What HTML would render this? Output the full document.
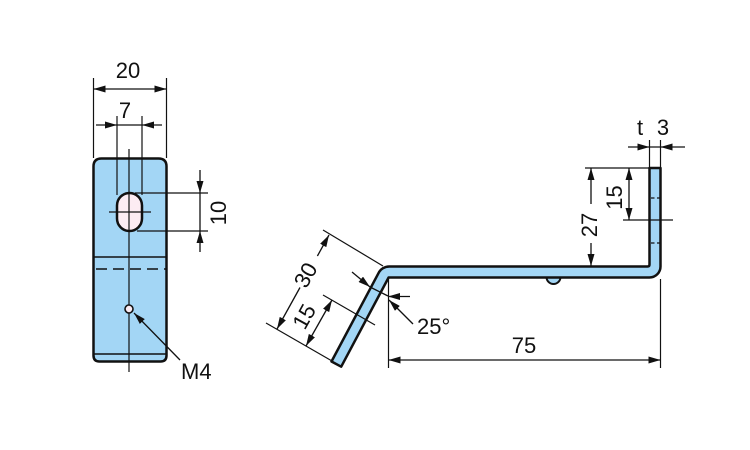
<!DOCTYPE html>
<html><head><meta charset="utf-8"><style>
html,body{margin:0;padding:0;background:#fff;}
svg{display:block;}
text{font-family:"Liberation Sans",sans-serif;font-size:22px;fill:#111;}
</style></head><body>
<svg width="750" height="450" viewBox="0 0 750 450" xmlns="http://www.w3.org/2000/svg">
<defs>
<marker id="a" viewBox="0 0 12 7" refX="12" refY="3.5" markerWidth="12" markerHeight="7" markerUnits="userSpaceOnUse" orient="auto-start-reverse">
<path d="M0,0 L12,3.5 L0,7 z" fill="#111"/>
</marker>
</defs>

<!-- LEFT FRONT VIEW -->
<path d="M93.5,166.5 Q93.5,158.5 101.5,158.5 L158.5,158.5 Q166.5,158.5 166.5,166.5 L166.5,355.5 Q166.5,361.5 160.5,361.5 L99.5,361.5 Q93.5,361.5 93.5,355.5 Z" fill="#a3d6f5" stroke="#111" stroke-width="2.5"/>
<line x1="93.5" y1="257" x2="166.5" y2="257" stroke="#111" stroke-width="1.6"/>
<line x1="96" y1="269" x2="166" y2="269" stroke="#111" stroke-width="1.6" stroke-dasharray="11,6"/>
<line x1="93.5" y1="354" x2="166.5" y2="354" stroke="#111" stroke-width="1.6"/>
<rect x="117" y="193" width="25" height="38" rx="12.5" ry="12.5" fill="#fcecf3" stroke="#111" stroke-width="2.5"/>
<line x1="109" y1="212" x2="151" y2="212" stroke="#111" stroke-width="1.3"/>
<line x1="129" y1="149" x2="129" y2="372" stroke="#111" stroke-width="1.2"/>
<circle cx="129" cy="309" r="4" fill="#fcecf3" stroke="#111" stroke-width="1.6"/>

<!-- dim 20 -->
<line x1="93.5" y1="78" x2="93.5" y2="158" stroke="#111" stroke-width="1.2"/>
<line x1="166.5" y1="78" x2="166.5" y2="158" stroke="#111" stroke-width="1.2"/>
<line x1="93.5" y1="89" x2="166.5" y2="89" stroke="#111" stroke-width="1.3" marker-start="url(#a)" marker-end="url(#a)"/>
<text x="128" y="78" text-anchor="middle">20</text>
<!-- dim 7 -->
<line x1="117" y1="116" x2="117" y2="195" stroke="#111" stroke-width="1.2"/>
<line x1="142" y1="116" x2="142" y2="195" stroke="#111" stroke-width="1.2"/>
<line x1="96" y1="125" x2="162" y2="125" stroke="#111" stroke-width="1.3"/>
<line x1="96" y1="125" x2="117" y2="125" stroke="none" marker-end="url(#a)"/>
<line x1="162" y1="125" x2="142" y2="125" stroke="none" marker-end="url(#a)"/>
<text x="125" y="118" text-anchor="middle">7</text>
<!-- dim 10 -->
<line x1="135" y1="193" x2="208" y2="193" stroke="#111" stroke-width="1.2"/>
<line x1="137" y1="231" x2="208" y2="231" stroke="#111" stroke-width="1.2"/>
<line x1="200" y1="170" x2="200" y2="252" stroke="#111" stroke-width="1.3"/>
<line x1="200" y1="170" x2="200" y2="193" stroke="none" marker-end="url(#a)"/>
<line x1="200" y1="252" x2="200" y2="231" stroke="none" marker-end="url(#a)"/>
<text transform="translate(226,213) rotate(-90)" x="0" y="0" text-anchor="middle">10</text>
<!-- M4 -->
<line x1="180" y1="360" x2="134" y2="313" stroke="#111" stroke-width="1.3" marker-end="url(#a)"/>
<text x="181" y="379">M4</text>

<!-- RIGHT SIDE VIEW -->
<path d="M546.5,277 A7 7 0 0 0 560.5,277 Z" fill="#a3d6f5" stroke="#111" stroke-width="2"/>
<path d="M331.5,361.5 L378.6,272.9 A12 12 0 0 1 389.2,266.5 L647.5,266.5 Q649.5,266.5 649.5,264.5 L649.5,168 L660.5,168 L660.5,266.5 A11 11 0 0 1 649.5,277.5 L388.6,277.5 L341.2,366.7 Z" fill="#a3d6f5" stroke="#111" stroke-width="2.5" stroke-linejoin="round"/>
<!-- hidden dashes on vertical -->
<line x1="651" y1="198" x2="660" y2="198" stroke="#111" stroke-width="1.3" stroke-dasharray="3.5,2.5"/>
<line x1="651" y1="243" x2="660" y2="243" stroke="#111" stroke-width="1.3" stroke-dasharray="3.5,2.5"/>

<!-- t 3 -->
<line x1="649.5" y1="140" x2="649.5" y2="168" stroke="#111" stroke-width="1.2"/>
<line x1="660.5" y1="140" x2="660.5" y2="168" stroke="#111" stroke-width="1.2"/>
<line x1="628" y1="147" x2="685" y2="147" stroke="#111" stroke-width="1.3"/>
<line x1="628" y1="147" x2="649.5" y2="147" stroke="none" marker-end="url(#a)"/>
<line x1="685" y1="147" x2="660.5" y2="147" stroke="none" marker-end="url(#a)"/>
<text x="640" y="135" text-anchor="middle">t</text>
<text x="663" y="135" text-anchor="middle">3</text>

<!-- 15 right -->
<line x1="585" y1="168" x2="649" y2="168" stroke="#111" stroke-width="1.2"/>
<line x1="623" y1="220" x2="673" y2="220" stroke="#111" stroke-width="1.2"/>
<line x1="629" y1="168" x2="629" y2="220" stroke="#111" stroke-width="1.3" marker-start="url(#a)" marker-end="url(#a)"/>
<text transform="translate(622,197.5) rotate(-90)" x="0" y="0" text-anchor="middle">15</text>

<!-- 27 -->
<line x1="591" y1="168" x2="591" y2="204" stroke="#111" stroke-width="1.3" marker-start="url(#a)"/>
<line x1="591" y1="243" x2="591" y2="266" stroke="#111" stroke-width="1.3" marker-end="url(#a)"/>
<text transform="translate(597,225) rotate(-90)" x="0" y="0" text-anchor="middle">27</text>

<!-- 75 -->
<line x1="388.5" y1="279" x2="388.5" y2="368" stroke="#111" stroke-width="1.2"/>
<line x1="660.5" y1="279" x2="660.5" y2="368" stroke="#111" stroke-width="1.2"/>
<line x1="388.5" y1="360" x2="660.5" y2="360" stroke="#111" stroke-width="1.3" marker-start="url(#a)" marker-end="url(#a)"/>
<text x="524" y="353" text-anchor="middle">75</text>

<!-- slanted dims -->
<line x1="323" y1="230" x2="383" y2="266" stroke="#111" stroke-width="1.2"/>
<line x1="323" y1="295" x2="375" y2="325" stroke="#111" stroke-width="1.2"/>
<line x1="266" y1="323" x2="332" y2="361" stroke="#111" stroke-width="1.2"/>
<line x1="317.4" y1="256" x2="329" y2="235" stroke="#111" stroke-width="1.3" marker-end="url(#a)"/>
<line x1="300" y1="287.5" x2="277" y2="329" stroke="#111" stroke-width="1.3" marker-end="url(#a)"/>
<text transform="translate(305.5,275) rotate(-61)" x="0" y="7.7" text-anchor="middle">30</text>
<line x1="332" y1="300" x2="306" y2="346" stroke="#111" stroke-width="1.3" marker-start="url(#a)" marker-end="url(#a)"/>
<text transform="translate(304,316.5) rotate(-61)" x="0" y="7.7" text-anchor="middle">15</text>

<!-- angle indicator -->
<line x1="352" y1="272" x2="370" y2="287" stroke="#111" stroke-width="1.3" marker-end="url(#a)"/>
<line x1="370" y1="287" x2="388" y2="296" stroke="#111" stroke-width="1.3"/>
<line x1="410" y1="296.5" x2="388" y2="296.5" stroke="#111" stroke-width="1.3" marker-end="url(#a)"/>
<line x1="413" y1="324" x2="389" y2="300" stroke="#111" stroke-width="1.3" marker-end="url(#a)"/>
<text x="417" y="334">25°</text>
</svg>
</body></html>
